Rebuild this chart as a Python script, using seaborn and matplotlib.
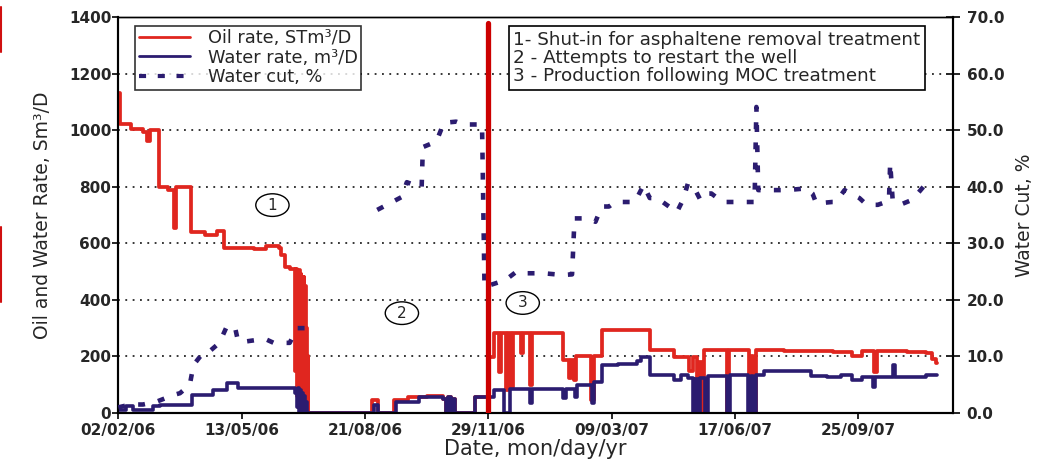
import numpy as np
import pandas as pd
import matplotlib
matplotlib.use("Agg")
import matplotlib.pyplot as plt
from matplotlib.lines import Line2D
from matplotlib.patches import Ellipse
import seaborn as sns

# ---------------- data (days since 02/02/06) ----------------
oil_day = [0, 1, 10, 20, 23, 26, 33, 40, 45, 46.5, 59, 70, 80, 86, 110, 120, 130, 132, 135,
           139, 143, 143.6, 144.2, 144.8, 145.4, 146, 146.6, 147.2, 147.8, 148.4, 149, 149.6, 150.2,
           150.8, 151.4, 152, 152.6, 153.2, 153.8,
           154, 206, 211, 224, 235, 250, 263, 266, 267.5, 270, 271.5, 273, 289, 300,
           300.5, 305, 309, 310, 314.5, 316, 318.5, 320, 326.5, 328, 333.5, 335.5,
           361, 365.5, 367, 369.5, 371, 383.5, 385.5, 392, 431, 451, 463, 466, 469, 471, 473, 475, 477,
           494, 495.5, 511.5, 513, 515, 517.5, 540, 560, 580, 595, 603, 613, 615.5, 640, 655, 660, 663, 664]
oil_rate = [1130, 1020, 1005, 995, 960, 1000, 800, 790, 655, 800, 640, 630, 645, 585, 580, 592, 585, 560, 515,
            510, 480, 150, 510, 60, 500, 20, 505, 100, 490, 0, 470, 30, 480, 10, 450, 0, 300, 0, 200,
            0, 45, 0, 45, 55, 60, 50, 0, 55, 0, 50, 0, 55, 55,
            199, 282, 146, 282, 81, 282, 92, 282, 212, 282, 99, 282,
            187, 124, 187, 117, 200, 46, 200, 293, 223, 199, 150, 199, 0, 180, 0, 223, 223,
            0, 223, 0, 200, 0, 223, 218, 220, 215, 200, 218, 145, 218, 215, 212, 190, 176, 176]

water_day = [0, 6, 12, 28, 34, 60, 77, 88, 97, 120, 143, 144, 144.8, 145.6, 146.4, 147.2, 148,
             148.8, 149.6, 150.4, 151.2, 152, 152.8, 154, 207, 211, 225, 244, 257, 263, 266, 267.5,
             270, 271.5, 273, 289, 300, 305, 313, 318, 334, 335.5, 361, 363, 370, 372, 384.5, 386,
             392, 405, 421, 424, 431, 451, 456, 462, 466, 468, 470, 472, 476, 478, 494, 496,
             511, 513, 515, 517, 524, 562, 575, 586, 595, 603, 612, 614, 628, 630, 645, 655, 664]
water_rate = [12, 25, 12, 25, 30, 65, 80, 105, 90, 88, 70, 85, 20, 90, 0, 80, 10,
              70, 0, 60, 0, 40, 0, 0, 30, 0, 38, 55, 58, 50, 0, 55,
              0, 50, 0, 57, 58, 81, 0, 85, 35, 85, 53, 85, 58, 99, 35, 110,
              170, 175, 185, 198, 134, 117, 134, 125, 0, 120, 0, 125, 0, 130, 0, 134,
              0, 130, 0, 134, 150, 130, 127, 134, 117, 127, 92, 127, 170, 127, 127, 134, 134]

wc_day_a = [0, 10, 20, 31, 45, 50, 58, 61, 69, 74, 82, 88, 92, 95, 97, 102, 115, 120, 126, 139, 145, 153]
wc_a = [1.0, 1.5, 1.5, 2.0, 3.2, 3.5, 5.0, 8.5, 10.7, 10.9, 12.4, 15.3, 15.5, 14.8, 12.8, 12.6,
        13.0, 13.0, 12.4, 12.4, 15.0, 15.0]
wc_day_b = [210, 230, 234, 240, 246, 247, 258, 264, 274, 280, 291, 295, 297, 307, 314, 323, 331, 345,
            360, 368, 370, 381, 387, 392, 398, 403, 408, 419, 426, 431, 437, 453, 458, 462, 468, 472,
            476, 481, 490, 500, 510, 516, 517.5, 519, 528, 542, 558, 563, 566, 569, 579, 582, 589,
            594, 601, 607, 616, 625, 626, 628, 634, 644, 653, 658]
wc_b = [35.9, 38.2, 40.8, 40.3, 39.8, 47.0, 48.0, 51.3, 51.5, 51.0, 51.0, 51.0, 22.3, 23.0, 23.5, 25.0,
        24.7, 24.7, 24.4, 24.5, 34.4, 34.4, 33.8, 36.5, 36.5, 37.3, 37.3, 37.3, 40.3, 38.0, 38.0,
        35.5, 37.7, 40.6, 39.4, 37.7, 38.8, 38.8, 37.3, 37.3, 37.3, 37.3, 54.1, 39.4, 39.4, 39.4,
        39.7, 38.8, 37.1, 37.1, 37.3, 37.3, 39.4, 38.8, 38.0, 36.8, 36.8, 37.5, 44.2, 37.7, 36.8,
        37.7, 40.0, 42.0]

tick_days = [0, 100, 200, 300, 400, 500, 600]
tick_labels = ["02/02/06", "13/05/06", "21/08/06", "29/11/06", "09/03/07", "17/06/07", "25/09/07"]
treatment_day = 300
stage_labels = ["1", "2", "3"]
stage_day = [125, 230, 328]
stage_rate = [735, 353, 389]
notes = ["1- Shut-in for asphaltene removal treatment",
         "2 - Attempts to restart the well",
         "3 - Production following MOC treatment"]

# ---------------- style ----------------
sns.set_style("ticks")
plt.rcParams['font.family'] = ['DejaVu Sans']

OIL = "#e0261f"
NAVY = "#2b1c70"
RED_LINE = "#cc0000"

fig = plt.figure(figsize=(10.51, 4.62), dpi=100)
ax = fig.add_axes([0.11256, 0.10606, 0.7939, 0.85714])
ax2 = ax.twinx()

oil_df = pd.DataFrame({"day": oil_day, "rate": oil_rate})
wat_df = pd.DataFrame({"day": water_day, "rate": water_rate})
sns.lineplot(data=oil_df, x="day", y="rate", ax=ax, color=OIL, lw=2.7,
             drawstyle="steps-post", estimator=None, sort=False, zorder=3)
sns.lineplot(data=wat_df, x="day", y="rate", ax=ax, color=NAVY, lw=2.6,
             drawstyle="steps-post", estimator=None, sort=False, zorder=4)

for d, v in ((wc_day_a, wc_a), (wc_day_b, wc_b)):
    sns.lineplot(x=d, y=v, ax=ax2, color=NAVY, lw=3.3, dashes=False,
                 estimator=None, sort=False, zorder=3)
for ln in ax2.get_lines():
    ln.set_dashes((1.5, 2.9))
    ln.set_dash_capstyle("butt")

ax2.axvline(treatment_day, ymin=0, ymax=0.985, color=RED_LINE, lw=3.8, zorder=6)

ax.set_xlim(0, 676.7)
ax.set_ylim(0, 1400)
ax2.set_ylim(0, 70)
ax.set_yticks(range(0, 1401, 200))
ax2.set_yticks(range(0, 71, 10))
ax2.set_yticklabels([f"{v:.1f}" for v in range(0, 71, 10)])
ax.set_xticks(tick_days)
ax.set_xticklabels(tick_labels)

ax.yaxis.grid(True, linestyle=(0, (1.2, 3.6)), color="black", lw=1.1)
ax.xaxis.grid(False)
ax.set_axisbelow(True)

for a in (ax, ax2):
    for s in a.spines.values():
        s.set_linewidth(1.5)
        s.set_color("black")
ax.spines["top"].set_linewidth(1.0)
ax2.spines["top"].set_linewidth(1.0)

ax.tick_params(axis="y", direction="out", length=4, width=1.4, pad=1, labelsize=11)
ax.tick_params(axis="x", direction="out", length=4, width=1.4, pad=3, labelsize=11)
ax2.tick_params(axis="y", direction="inout", length=10, width=1.4, pad=5, labelsize=11)
for lab in ax.get_xticklabels() + ax.get_yticklabels() + ax2.get_yticklabels():
    lab.set_fontweight("bold")

ax.set_xlabel("Date, mon/day/yr", fontsize=15, labelpad=1)
ax.set_ylabel("Oil and Water Rate, Sm³/D", fontsize=13.5, labelpad=12)
ax2.set_ylabel("Water Cut, %", fontsize=13.5, labelpad=8, rotation=90)

# stage markers (circled numbers)
for lab, d, r in zip(stage_labels, stage_day, stage_rate):
    ax.add_patch(Ellipse((d, r), width=27, height=80, fc="white", ec="black", lw=1.0, zorder=7))
    ax.text(d, r, lab, ha="center", va="center", fontsize=11, zorder=8)

# legend
handles = [Line2D([], [], color=OIL, lw=2.0),
           Line2D([], [], color=NAVY, lw=2.0),
           Line2D([], [], color=NAVY, lw=3.0, dashes=(1.7, 2.8))]
leg = ax2.legend(handles, ["Oil rate, STm³/D", "Water rate, m³/D", "Water cut, %"],
                 loc="upper left", bbox_to_anchor=(0.02, 0.978), frameon=True, fancybox=False,
                 fontsize=12.8, handlelength=2.9, handletextpad=1.0, labelspacing=0.08,
                 borderpad=0.2, borderaxespad=0)
leg.get_frame().set_edgecolor("black")
leg.get_frame().set_linewidth(1.2)
leg.set_zorder(10)

# notes box
ax2.text(0.4734, 0.965, "\n".join(notes), transform=ax2.transAxes, ha="left", va="top",
         fontsize=13.2, linespacing=1.02, zorder=10,
         bbox=dict(boxstyle="square,pad=0.25", fc="white", ec="black", lw=1.2))

# stray red edge marks of the source scan
for y0, y1 in ((1 - 7 / 462, 1 - 52 / 462), (1 - 227 / 462, 1 - 302 / 462)):
    fig.add_artist(Line2D([0.0012, 0.0012], [y0, y1], transform=fig.transFigure,
                          color="#d01010", lw=1.5))

fig.savefig("out.png", dpi=100)
